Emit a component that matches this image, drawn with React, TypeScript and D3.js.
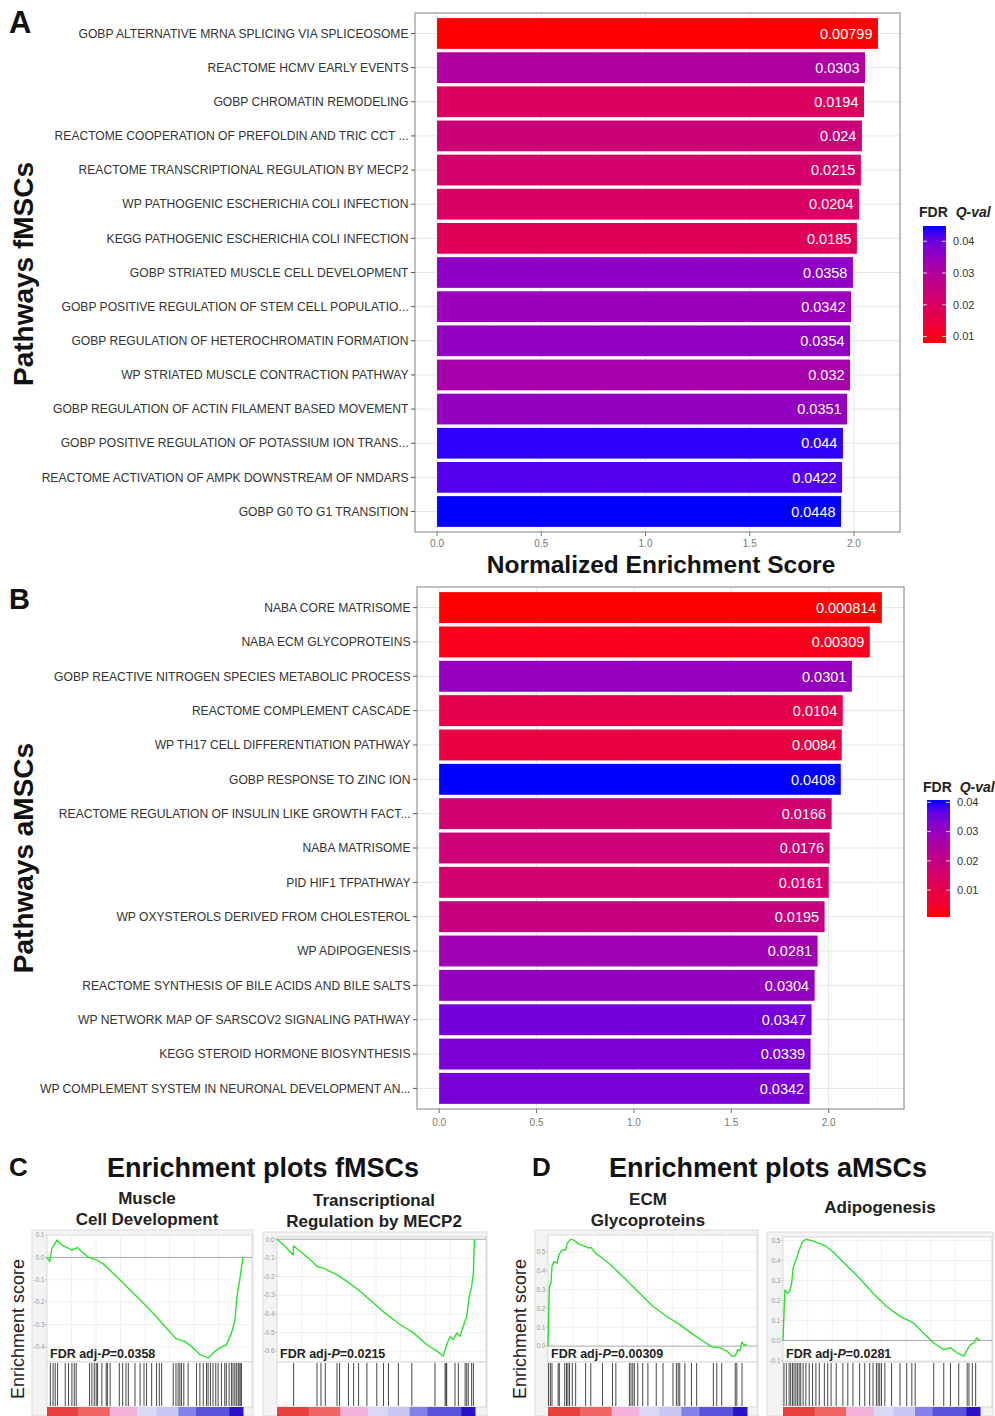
import React from 'react';
import * as d3 from 'd3';

// ---- panel A: fMSCs ----
const fmscPathways = [
  'GOBP ALTERNATIVE MRNA SPLICING VIA SPLICEOSOME',
  'REACTOME HCMV EARLY EVENTS',
  'GOBP CHROMATIN REMODELING',
  'REACTOME COOPERATION OF PREFOLDIN AND TRIC CCT ...',
  'REACTOME TRANSCRIPTIONAL REGULATION BY MECP2',
  'WP PATHOGENIC ESCHERICHIA COLI INFECTION',
  'KEGG PATHOGENIC ESCHERICHIA COLI INFECTION',
  'GOBP STRIATED MUSCLE CELL DEVELOPMENT',
  'GOBP POSITIVE REGULATION OF STEM CELL POPULATIO...',
  'GOBP REGULATION OF HETEROCHROMATIN FORMATION',
  'WP STRIATED MUSCLE CONTRACTION PATHWAY',
  'GOBP REGULATION OF ACTIN FILAMENT BASED MOVEMENT',
  'GOBP POSITIVE REGULATION OF POTASSIUM ION TRANS...',
  'REACTOME ACTIVATION OF AMPK DOWNSTREAM OF NMDARS',
  'GOBP G0 TO G1 TRANSITION',
];
const fmscNES = [2.115, 2.053, 2.048, 2.038, 2.033, 2.024, 2.014, 1.995, 1.986, 1.981, 1.981, 1.967, 1.947, 1.943, 1.938];
const fmscFDR = [0.00799, 0.0303, 0.0194, 0.024, 0.0215, 0.0204, 0.0185, 0.0358, 0.0342, 0.0354, 0.032, 0.0351, 0.044, 0.0422, 0.0448];

// ---- panel B: aMSCs ----
const amscPathways = [
  'NABA CORE MATRISOME',
  'NABA ECM GLYCOPROTEINS',
  'GOBP REACTIVE NITROGEN SPECIES METABOLIC PROCESS',
  'REACTOME COMPLEMENT CASCADE',
  'WP TH17 CELL DIFFERENTIATION PATHWAY',
  'GOBP RESPONSE TO ZINC ION',
  'REACTOME REGULATION OF INSULIN LIKE GROWTH FACT...',
  'NABA MATRISOME',
  'PID HIF1 TFPATHWAY',
  'WP OXYSTEROLS DERIVED FROM CHOLESTEROL',
  'WP ADIPOGENESIS',
  'REACTOME SYNTHESIS OF BILE ACIDS AND BILE SALTS',
  'WP NETWORK MAP OF SARSCOV2 SIGNALING PATHWAY',
  'KEGG STEROID HORMONE BIOSYNTHESIS',
  'WP COMPLEMENT SYSTEM IN NEURONAL DEVELOPMENT AN...',
];
const amscNES = [2.273, 2.211, 2.119, 2.072, 2.067, 2.062, 2.015, 2.005, 2.0, 1.979, 1.943, 1.928, 1.912, 1.907, 1.902];
const amscFDR = [0.000814, 0.00309, 0.0301, 0.0104, 0.0084, 0.0408, 0.0166, 0.0176, 0.0161, 0.0195, 0.0281, 0.0304, 0.0347, 0.0339, 0.0342];

const nesTicks = [0, 0.5, 1, 1.5, 2];
const fdrTicks = [0.01, 0.02, 0.03, 0.04];

// ---- enrichment curves (rank fraction, running ES) ----
const muscleRank = [0, 0.014, 0.025, 0.051, 0.076, 0.102, 0.127, 0.156, 0.178, 0.212, 0.254, 0.288, 0.356, 0.441, 0.525, 0.61, 0.661, 0.703, 0.746, 0.78, 0.822, 0.847, 0.881, 0.915, 0.941, 0.958, 0.969, 0.983, 1];
const muscleES = [0, -0.019, 0.04, 0.077, 0.055, 0.044, 0.033, 0.044, 0.025, 0, -0.012, -0.03, -0.086, -0.16, -0.234, -0.316, -0.364, -0.375, -0.404, -0.434, -0.449, -0.427, -0.404, -0.39, -0.338, -0.286, -0.175, -0.101, 0];
const muscleHits = [0.017, 0.031, 0.042, 0.054, 0.093, 0.11, 0.127, 0.139, 0.149, 0.217, 0.229, 0.241, 0.251, 0.258, 0.28, 0.302, 0.308, 0.322, 0.369, 0.386, 0.403, 0.415, 0.449, 0.475, 0.495, 0.508, 0.534, 0.559, 0.573, 0.585, 0.644, 0.658, 0.669, 0.678, 0.686, 0.698, 0.72, 0.763, 0.78, 0.797, 0.814, 0.822, 0.834, 0.847, 0.861, 0.873, 0.89, 0.907, 0.915, 0.929, 0.941, 0.949, 0.958, 0.966, 0.975, 0.98, 0.986, 0.992];

const mecp2Rank = [0, 0.042, 0.081, 0.084, 0.118, 0.168, 0.202, 0.235, 0.269, 0.303, 0.353, 0.42, 0.487, 0.555, 0.622, 0.689, 0.756, 0.807, 0.84, 0.857, 0.874, 0.891, 0.908, 0.924, 0.941, 0.958, 0.971, 0.983, 0.992, 0.997];
const mecp2ES = [0, -0.039, -0.084, -0.036, -0.066, -0.11, -0.146, -0.155, -0.173, -0.19, -0.226, -0.279, -0.342, -0.404, -0.457, -0.502, -0.564, -0.6, -0.626, -0.564, -0.523, -0.537, -0.502, -0.52, -0.466, -0.413, -0.306, -0.253, -0.181, 0];
const mecp2Hits = [0.084, 0.202, 0.222, 0.244, 0.303, 0.316, 0.361, 0.387, 0.412, 0.454, 0.504, 0.538, 0.563, 0.613, 0.681, 0.798, 0.849, 0.854, 0.857, 0.899, 0.916, 0.95, 0.958, 0.966, 0.983, 0.992];

const ecmRank = [0, 0.003, 0.007, 0.015, 0.02, 0.029, 0.046, 0.054, 0.071, 0.088, 0.096, 0.113, 0.13, 0.155, 0.181, 0.206, 0.215, 0.24, 0.274, 0.324, 0.392, 0.459, 0.527, 0.595, 0.662, 0.73, 0.78, 0.823, 0.865, 0.899, 0.924, 0.941, 0.953, 0.963, 0.975, 0.986, 1];
const ecmES = [0, 0.175, 0.316, 0.333, 0.421, 0.447, 0.439, 0.482, 0.509, 0.509, 0.544, 0.565, 0.561, 0.54, 0.53, 0.518, 0.523, 0.491, 0.465, 0.421, 0.351, 0.281, 0.211, 0.158, 0.114, 0.061, 0.026, -0.004, -0.009, -0.026, -0.053, -0.053, -0.018, -0.026, 0.021, 0.004, 0.009];
const ecmHits = [0.003, 0.012, 0.02, 0.051, 0.057, 0.084, 0.093, 0.1, 0.108, 0.122, 0.139, 0.189, 0.215, 0.274, 0.324, 0.341, 0.409, 0.417, 0.426, 0.434, 0.451, 0.476, 0.502, 0.544, 0.578, 0.628, 0.645, 0.654, 0.662, 0.688, 0.721, 0.747, 0.831, 0.848, 0.873, 0.941, 0.949, 0.975];

const adipoRank = [0, 0.005, 0.01, 0.022, 0.034, 0.044, 0.051, 0.065, 0.082, 0.099, 0.116, 0.15, 0.188, 0.218, 0.253, 0.321, 0.389, 0.457, 0.526, 0.594, 0.662, 0.713, 0.765, 0.816, 0.85, 0.884, 0.918, 0.935, 0.952, 0.969, 0.983, 1];
const adipoES = [0, 0.137, 0.253, 0.236, 0.245, 0.286, 0.36, 0.402, 0.451, 0.493, 0.506, 0.498, 0.484, 0.471, 0.443, 0.377, 0.311, 0.236, 0.17, 0.121, 0.088, 0.038, -0.012, -0.045, -0.036, -0.061, -0.078, -0.045, -0.02, -0.012, 0.013, 0];
const adipoHits = [0.005, 0.017, 0.031, 0.039, 0.048, 0.056, 0.065, 0.073, 0.082, 0.09, 0.102, 0.116, 0.133, 0.15, 0.167, 0.184, 0.21, 0.227, 0.244, 0.27, 0.304, 0.329, 0.355, 0.389, 0.415, 0.44, 0.457, 0.474, 0.483, 0.491, 0.5, 0.517, 0.551, 0.594, 0.628, 0.654, 0.671, 0.765, 0.816, 0.85, 0.892, 0.935, 0.944, 0.961, 0.978];

// ranked-list colour strip under each enrichment plot
const stripBreaks = [0, 0.16, 0.32, 0.46, 0.56, 0.67, 0.76, 0.93, 1];
const stripColors = ['#e8403f', '#f06464', '#f3b2d9', '#dad8f4', '#c8c6f2', '#8482ea', '#5a52da', '#2a12c6'];

const FONT = "'Liberation Sans', Arial, Helvetica, sans-serif";
const fmt1 = (v: number) => (Math.abs(v) < 1e-9 ? '0.0' : v.toFixed(1));

function BarPanel({ labels, nes, fdr, frame, tickGap, legend }: any) {
  const color = d3.scaleLinear<string>()
    .domain(d3.extent(fdr) as [number, number])
    .range(['red', 'blue'])
    .interpolate(d3.interpolateLab);
  const maxNes = d3.max(nes) as number;
  const x = d3.scaleLinear().domain([-0.05 * maxNes, maxNes * 1.05]).range([frame.left, frame.right]);
  const y = d3.scaleBand().domain(labels).range([frame.top, frame.bottom]).paddingInner(0.1).paddingOuter(0.15);
  const [d0, d1] = x.domain();
  const minor = d3.range(-0.25, d1, 0.5).filter(v => v > d0 && v < d1);

  // colourbar
  const lg = d3.scaleLinear().domain(d3.extent(fdr) as [number, number]).range([legend.bottom, legend.top]);
  const gid = 'grad' + legend.id;
  const stops = d3.range(0, 1.0001, 0.1);

  return (
    <g fontFamily={FONT}>
      <rect x={frame.left} y={frame.top} width={frame.right - frame.left} height={frame.bottom - frame.top} fill="white" />
      {minor.map(v => (
        <line key={'mi' + v} x1={x(v)} x2={x(v)} y1={frame.top} y2={frame.bottom} stroke="#f2f2f2" strokeWidth={0.6} />
      ))}
      {nesTicks.map(v => (
        <line key={'ma' + v} x1={x(v)} x2={x(v)} y1={frame.top} y2={frame.bottom} stroke="#e6e6e6" strokeWidth={1} />
      ))}
      {labels.map((l: string) => (
        <line key={'hg' + l} x1={frame.left} x2={frame.right} y1={(y(l) as number) + y.bandwidth() / 2} y2={(y(l) as number) + y.bandwidth() / 2} stroke="#e6e6e6" strokeWidth={1} />
      ))}
      {labels.map((l: string, i: number) => (
        <rect key={'b' + l} x={x(0)} y={y(l)} width={x(nes[i]) - x(0)} height={y.bandwidth()} fill={color(fdr[i])} />
      ))}
      {labels.map((l: string, i: number) => (
        <text key={'v' + l} x={x(nes[i]) - 5.5} y={(y(l) as number) + y.bandwidth() / 2} dy="0.36em" textAnchor="end" fill="white" fontSize={14.5}>
          {String(fdr[i])}
        </text>
      ))}
      <rect x={frame.left} y={frame.top} width={frame.right - frame.left} height={frame.bottom - frame.top} fill="none" stroke="#8c8c8c" strokeWidth={1.1} />
      {labels.map((l: string) => (
        <g key={'yt' + l} transform={`translate(0,${(y(l) as number) + y.bandwidth() / 2})`}>
          <line x1={frame.left - 4} x2={frame.left} stroke="#555" />
          <text x={frame.left - 6.5} dy="0.35em" textAnchor="end" fontSize={12.1} fill="#333">{l}</text>
        </g>
      ))}
      {nesTicks.map(v => (
        <g key={'xt' + v} transform={`translate(${x(v)},${frame.bottom})`}>
          <line y1={0} y2={4} stroke="#777" />
          <text y={tickGap} textAnchor="middle" fontSize={10} fill="#777">{v.toFixed(1)}</text>
        </g>
      ))}

      <defs>
        <linearGradient id={gid} x1="0" y1="1" x2="0" y2="0">
          {stops.map(t => (
            <stop key={t} offset={t} stopColor={color(d3.quantile(d3.extent(fdr) as number[], t) as number)} />
          ))}
        </linearGradient>
      </defs>
      <text x={legend.left - 4} y={legend.titleY} fontSize={14} fontWeight="bold" fill="#222">
        FDR <tspan dx={4} fontStyle="italic">Q-val</tspan>
      </text>
      <rect x={legend.left} y={legend.top} width={23} height={legend.bottom - legend.top} fill={`url(#${gid})`} />
      {fdrTicks.map(v => (
        <g key={'lt' + v} transform={`translate(0,${lg(v)})`}>
          <line x1={legend.left} x2={legend.left + 4} stroke="white" strokeOpacity={0.8} />
          <line x1={legend.left + 19} x2={legend.left + 23} stroke="white" strokeOpacity={0.8} />
          <text x={legend.left + 30} dy="0.35em" fontSize={11} fill="#333">{String(v)}</text>
        </g>
      ))}
    </g>
  );
}

const ES_BOTTOM = 1362;
const HITS_BOTTOM = 1407;

function GseaPlot({ p }: any) {
  const x = d3.scaleLinear().domain([0, 1]).range([p.x0, p.x1]);
  const y = d3.scaleLinear().domain(p.yDomain).range([ES_BOTTOM, p.top]);
  const line = d3.line<number>().x((_, i) => x(p.rank[i])).y(d => y(d));
  const vgrid = d3.range(1, 8).map(i => i / 8);
  return (
    <g fontFamily={FONT}>
      <rect x={p.frameLeft} y={p.top - 5} width={p.frameRight - p.frameLeft} height={1416 - p.top + 5} fill="#f3f3f3" stroke="#dcdcdc" />
      <rect x={p.x0} y={p.top} width={p.frameRight - 1 - p.x0} height={ES_BOTTOM - p.top} fill="white" stroke="#cfcfcf" strokeWidth={0.8} />
      {vgrid.map(v => (
        <line key={'vg' + v} x1={x(v)} x2={x(v)} y1={p.top} y2={ES_BOTTOM} stroke="#ececec" strokeWidth={0.8} />
      ))}
      {p.yTicks.map((v: number) => (
        <g key={'yt' + v}>
          <line x1={p.x0} x2={p.frameRight - 1} y1={y(v)} y2={y(v)} stroke={v === 0 ? '#a8a8a8' : '#ececec'} strokeWidth={v === 0 ? 1 : 0.8} />
          <line x1={p.x0 - 2} x2={p.x0} y1={y(v)} y2={y(v)} stroke="#aaa" strokeWidth={0.6} />
          <text x={p.x0 - 2.5} y={y(v)} dy="0.35em" textAnchor="end" fontSize={6.5} fill="#999">{fmt1(v)}</text>
        </g>
      ))}
      <path d={line(p.es) as string} fill="none" stroke="#2ee02e" strokeWidth={1.4} strokeLinejoin="round" />
      <text x={p.x0 + 3} y={ES_BOTTOM - 4} fontSize={12.5} fontWeight="bold" fill="#222">
        FDR adj-<tspan fontStyle="italic">P</tspan>={p.fdr}
      </text>
      <rect x={p.x0} y={ES_BOTTOM} width={p.frameRight - 1 - p.x0} height={HITS_BOTTOM - ES_BOTTOM} fill="white" stroke="#cfcfcf" strokeWidth={0.8} />
      {p.hits.map((h: number, i: number) => (
        <line key={'h' + i} x1={x(h)} x2={x(h)} y1={ES_BOTTOM + 1} y2={HITS_BOTTOM - 1} stroke="#1a1a1a" strokeWidth={1} strokeOpacity={0.8} />
      ))}
      {stripColors.map((c, i) => (
        <rect key={'s' + i} x={x(stripBreaks[i])} y={HITS_BOTTOM} width={x(stripBreaks[i + 1]) - x(stripBreaks[i]) + 0.5} height={12} fill={c} />
      ))}
      {p.title.map((t: string, i: number) => (
        <text key={'t' + i} x={p.titleX} y={p.titleY + i * 21} textAnchor="middle" fontSize={17} fontWeight="bold" fill="#222">{t}</text>
      ))}
    </g>
  );
}

const gseaPlots = [
  { title: ['Muscle', 'Cell Development'], titleX: 147, titleY: 1204, rank: muscleRank, es: muscleES, hits: muscleHits, fdr: '0.0358',
    frameLeft: 32, frameRight: 253, x0: 47, x1: 243, top: 1235, yDomain: [-0.467, 0.1], yTicks: [0.1, 0, -0.1, -0.2, -0.3, -0.4] },
  { title: ['Transcriptional', 'Regulation by MECP2'], titleX: 374, titleY: 1206, rank: mecp2Rank, es: mecp2ES, hits: mecp2Hits, fdr: '0.0215',
    frameLeft: 263, frameRight: 487, x0: 277, x1: 475, top: 1237, yDomain: [-0.658, 0.012], yTicks: [0, -0.1, -0.2, -0.3, -0.4, -0.5, -0.6] },
  { title: ['ECM', 'Glycoproteins'], titleX: 648, titleY: 1205, rank: ecmRank, es: ecmES, hits: ecmHits, fdr: '0.00309',
    frameLeft: 535, frameRight: 758, x0: 548, x1: 747, top: 1235, yDomain: [-0.084, 0.588], yTicks: [0, 0.1, 0.2, 0.3, 0.4, 0.5] },
  { title: ['Adipogenesis'], titleX: 880, titleY: 1213, rank: adipoRank, es: adipoES, hits: adipoHits, fdr: '0.0281',
    frameLeft: 767, frameRight: 993, x0: 783, x1: 980, top: 1237, yDomain: [-0.107, 0.517], yTicks: [-0.1, 0, 0.1, 0.2, 0.3, 0.4, 0.5] },
];

export default function App() {
  return (
    <svg width={995} height={1416} style={{ position: 'absolute', left: 0, top: 0, background: 'white' }} fontFamily={FONT}>
      <rect width={995} height={1416} fill="white" />

      {/* A */}
      <text x={9} y={33} fontSize={31} fontWeight="bold" fill="#111">A</text>
      <BarPanel labels={fmscPathways} nes={fmscNES} fdr={fmscFDR}
        frame={{ left: 415, right: 900, top: 13, bottom: 532 }} tickGap={15}
        legend={{ id: 'a', left: 923, top: 226, bottom: 343, titleY: 217 }} />
      <text x={661} y={573} textAnchor="middle" fontSize={24.5} fontWeight="bold" fill="#111">Normalized Enrichment Score</text>
      <text transform="translate(33,274) rotate(-90)" textAnchor="middle" fontSize={28} fontWeight="bold" fill="#111">Pathways fMSCs</text>

      {/* B */}
      <text x={9} y={609} fontSize={29} fontWeight="bold" fill="#111">B</text>
      <BarPanel labels={amscPathways} nes={amscNES} fdr={amscFDR}
        frame={{ left: 417, right: 904, top: 587, bottom: 1109 }} tickGap={17}
        legend={{ id: 'b', left: 927, top: 800, bottom: 917, titleY: 792 }} />
      <text transform="translate(33,858) rotate(-90)" textAnchor="middle" fontSize={28} fontWeight="bold" fill="#111">Pathways aMSCs</text>

      {/* C and D */}
      <text x={9} y={1176} fontSize={26} fontWeight="bold" fill="#111">C</text>
      <text x={263} y={1177} textAnchor="middle" fontSize={27} fontWeight="bold" fill="#111">Enrichment plots fMSCs</text>
      <text x={532} y={1176} fontSize={26} fontWeight="bold" fill="#111">D</text>
      <text x={768} y={1177} textAnchor="middle" fontSize={27} fontWeight="bold" fill="#111">Enrichment plots aMSCs</text>
      {gseaPlots.map((p, i) => <GseaPlot key={i} p={p} />)}
      <text transform="translate(24,1329) rotate(-90)" textAnchor="middle" fontSize={18} fill="#222">Enrichment score</text>
      <text transform="translate(526,1329) rotate(-90)" textAnchor="middle" fontSize={18} fill="#222">Enrichment score</text>
    </svg>
  );
}
